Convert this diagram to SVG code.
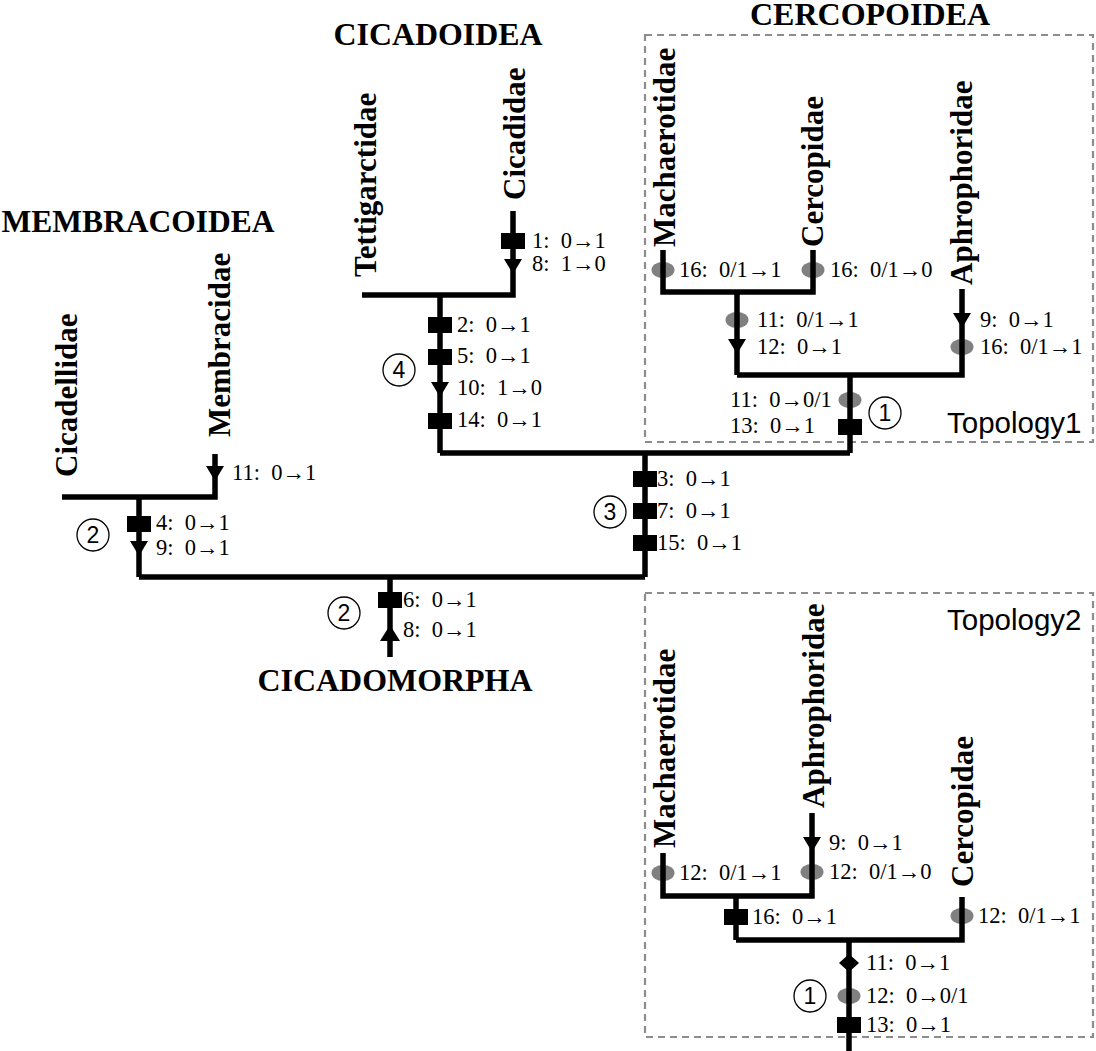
<svg xmlns="http://www.w3.org/2000/svg" xmlns:xlink="http://www.w3.org/1999/xlink" width="1096" height="1051" viewBox="0 0 1096 1051">
<style>
.br{stroke:#000;stroke-width:5.5;fill:none;stroke-linecap:butt;stroke-linejoin:miter}
.el{fill:#808080}
.lab{font-family:"Liberation Serif","Times New Roman",serif;font-size:22.5px;white-space:pre;fill:#000}
.tax{font-family:"Liberation Serif","Times New Roman",serif;font-weight:bold;font-size:31px;fill:#000}
.topo{font-family:"Liberation Sans",Arial,sans-serif;font-size:29.5px;fill:#000}
.box{fill:none;stroke:#8c8c8c;stroke-width:2.2;stroke-dasharray:7 5}
.circ{fill:#fff;stroke:#000;stroke-width:1.3}
.cnum{font-family:"Liberation Sans",Arial,sans-serif;font-size:23px;text-anchor:middle;fill:#000}
</style>
<defs>
<rect id="sq" x="-12" y="-8" width="24" height="16" fill="#000"/>
<polygon id="tdn" points="-9,-7 9,-7 0,8" fill="#000"/>
<polygon id="tup" points="-10,8 10,8 0,-8" fill="#000"/>
<polygon id="dia" points="-10,0 0,-9 10,0 0,9" fill="#000"/>
<ellipse id="el" rx="11.5" ry="8" class="el"/>
</defs>
<rect fill="#fff" x="0" y="0" width="1096" height="1051"/>

<g id="boxes">
<rect class="box" x="645" y="35" width="448" height="407"/>
<rect class="box" x="645" y="593" width="448" height="444"/>
<text class="topo" x="947" y="433">Topology1</text>
<text class="topo" x="947" y="630">Topology2</text>
</g>

<g id="headers">
<text class="tax" x="138" y="232" text-anchor="middle" textLength="273" lengthAdjust="spacingAndGlyphs">MEMBRACOIDEA</text>
<text class="tax" x="438" y="45" text-anchor="middle" textLength="209" lengthAdjust="spacingAndGlyphs">CICADOIDEA</text>
<text class="tax" x="870" y="25" text-anchor="middle" textLength="240" lengthAdjust="spacingAndGlyphs">CERCOPOIDEA</text>
<text class="tax" x="395" y="691" text-anchor="middle" textLength="275" lengthAdjust="spacingAndGlyphs">CICADOMORPHA</text>
</g>

<g id="ellipses">
<use xlink:href="#el" x="663" y="270"/>
<use xlink:href="#el" x="813" y="270"/>
<use xlink:href="#el" x="737" y="320"/>
<use xlink:href="#el" x="962" y="347"/>
<use xlink:href="#el" x="850" y="400"/>
<use xlink:href="#el" x="663" y="873"/>
<use xlink:href="#el" x="812" y="872"/>
<use xlink:href="#el" x="962" y="916"/>
<use xlink:href="#el" x="849" y="996"/>
</g>

<g id="connectors">
<path class="br" d="M390,657 V577"/>
<path class="br" d="M139,577 H645"/>
<path class="br" d="M139,577 V497"/>
<path class="br" d="M62,497 H215 V454"/>
<path class="br" d="M645,577 V453"/>
<path class="br" d="M440,453 H850"/>
<path class="br" d="M440,453 V295"/>
<path class="br" d="M362,295 H513 V211"/>
<path class="br" d="M850,453 V375"/>
<path class="br" d="M737,375 H962 V289"/>
<path class="br" d="M737,375 V292"/>
<path class="br" d="M663,250 V292 H813 V250"/>
<path class="br" d="M849,1051 V940"/>
<path class="br" d="M736,940 H962 V897"/>
<path class="br" d="M736,940 V896"/>
<path class="br" d="M663,853 V896 H812 V813"/>
</g>

<g id="markers">
<use xlink:href="#sq" x="513" y="241"/>
<use xlink:href="#tdn" x="513" y="266"/>
<use xlink:href="#sq" x="440" y="325"/>
<use xlink:href="#sq" x="440" y="357"/>
<use xlink:href="#tdn" x="440" y="389"/>
<use xlink:href="#sq" x="440" y="421"/>
<use xlink:href="#tdn" x="215" y="473"/>
<use xlink:href="#sq" x="139" y="524"/>
<use xlink:href="#tdn" x="139" y="548"/>
<use xlink:href="#sq" x="390" y="600"/>
<use xlink:href="#tup" x="390" y="633"/>
<use xlink:href="#sq" x="645" y="479"/>
<use xlink:href="#sq" x="645" y="511"/>
<use xlink:href="#sq" x="645" y="543"/>
<use xlink:href="#tdn" x="737" y="346"/>
<use xlink:href="#tdn" x="962" y="320"/>
<use xlink:href="#sq" x="850" y="427"/>
<use xlink:href="#tdn" x="812" y="844"/>
<use xlink:href="#sq" x="736" y="917"/>
<use xlink:href="#dia" x="849" y="963"/>
<use xlink:href="#sq" x="849" y="1025"/>
</g>

<g id="circled">
<circle class="circ" cx="399" cy="370" r="16"/><text class="cnum" x="399" y="378">4</text>
<circle class="circ" cx="93" cy="535" r="16"/><text class="cnum" x="93" y="543">2</text>
<circle class="circ" cx="344" cy="613" r="16"/><text class="cnum" x="344" y="621">2</text>
<circle class="circ" cx="610" cy="512" r="16"/><text class="cnum" x="610" y="520">3</text>
<circle class="circ" cx="885" cy="413" r="16"/><text class="cnum" x="885" y="421">1</text>
<circle class="circ" cx="810" cy="996" r="16"/><text class="cnum" x="810" y="1004">1</text>
</g>

<g id="leaf-cicadellidae"><text class="tax" transform="translate(77,477) rotate(-90)">Cicadellidae</text></g>
<g id="leaf-membracidae"><text class="tax" transform="translate(230,437) rotate(-90)">Membracidae</text>
<text class="lab" x="232" y="480">11:  0→1</text></g>
<g id="node-membracoidea"><text class="lab" x="156" y="530">4:  0→1</text><text class="lab" x="156" y="555">9:  0→1</text></g>
<g id="node-root"><text class="lab" x="403" y="607">6:  0→1</text><text class="lab" x="403" y="637">8:  0→1</text></g>
<g id="leaf-tettigarctidae"><text class="tax" transform="translate(376,277) rotate(-90)">Tettigarctidae</text></g>
<g id="leaf-cicadidae"><text class="tax" transform="translate(525,200) rotate(-90)">Cicadidae</text>
<text class="lab" x="532" y="248">1:  0→1</text><text class="lab" x="532" y="271">8:  1→0</text></g>
<g id="node-cicadoidea">
<text class="lab" x="457" y="332">2:  0→1</text>
<text class="lab" x="457" y="363">5:  0→1</text>
<text class="lab" x="457" y="395">10:  1→0</text>
<text class="lab" x="457" y="427">14:  0→1</text>
</g>
<g id="node-cicad-cercop">
<text class="lab" x="657" y="486">3:  0→1</text>
<text class="lab" x="657" y="518">7:  0→1</text>
<text class="lab" x="657" y="550">15:  0→1</text>
</g>

<g id="t1-machaerotidae"><text class="tax" transform="translate(675,247) rotate(-90)">Machaerotidae</text>
<text class="lab" x="679" y="277">16:  0/1→1</text></g>
<g id="t1-cercopidae"><text class="tax" transform="translate(823,247) rotate(-90)">Cercopidae</text>
<text class="lab" x="830" y="277">16:  0/1→0</text></g>
<g id="t1-mach-cerc"><text class="lab" x="757" y="327">11:  0/1→1</text><text class="lab" x="757" y="354">12:  0→1</text></g>
<g id="t1-aphrophoridae"><text class="tax" transform="translate(972,285) rotate(-90)">Aphrophoridae</text>
<text class="lab" x="980" y="327">9:  0→1</text><text class="lab" x="980" y="354">16:  0/1→1</text></g>
<g id="t1-cercopoidea"><text class="lab" x="730" y="407">11:  0→0/1</text><text class="lab" x="730" y="433">13:  0→1</text></g>

<g id="t2-machaerotidae"><text class="tax" transform="translate(675,848) rotate(-90)">Machaerotidae</text>
<text class="lab" x="679" y="880">12:  0/1→1</text></g>
<g id="t2-aphrophoridae"><text class="tax" transform="translate(824,808) rotate(-90)">Aphrophoridae</text>
<text class="lab" x="829" y="850">9:  0→1</text><text class="lab" x="829" y="879">12:  0/1→0</text></g>
<g id="t2-mach-aphro"><text class="lab" x="752" y="924">16:  0→1</text></g>
<g id="t2-cercopidae"><text class="tax" transform="translate(973,887) rotate(-90)">Cercopidae</text>
<text class="lab" x="978" y="923">12:  0/1→1</text></g>
<g id="t2-cercopoidea">
<text class="lab" x="866" y="970">11:  0→1</text>
<text class="lab" x="866" y="1003">12:  0→0/1</text>
<text class="lab" x="866" y="1032">13:  0→1</text>
</g>
</svg>
